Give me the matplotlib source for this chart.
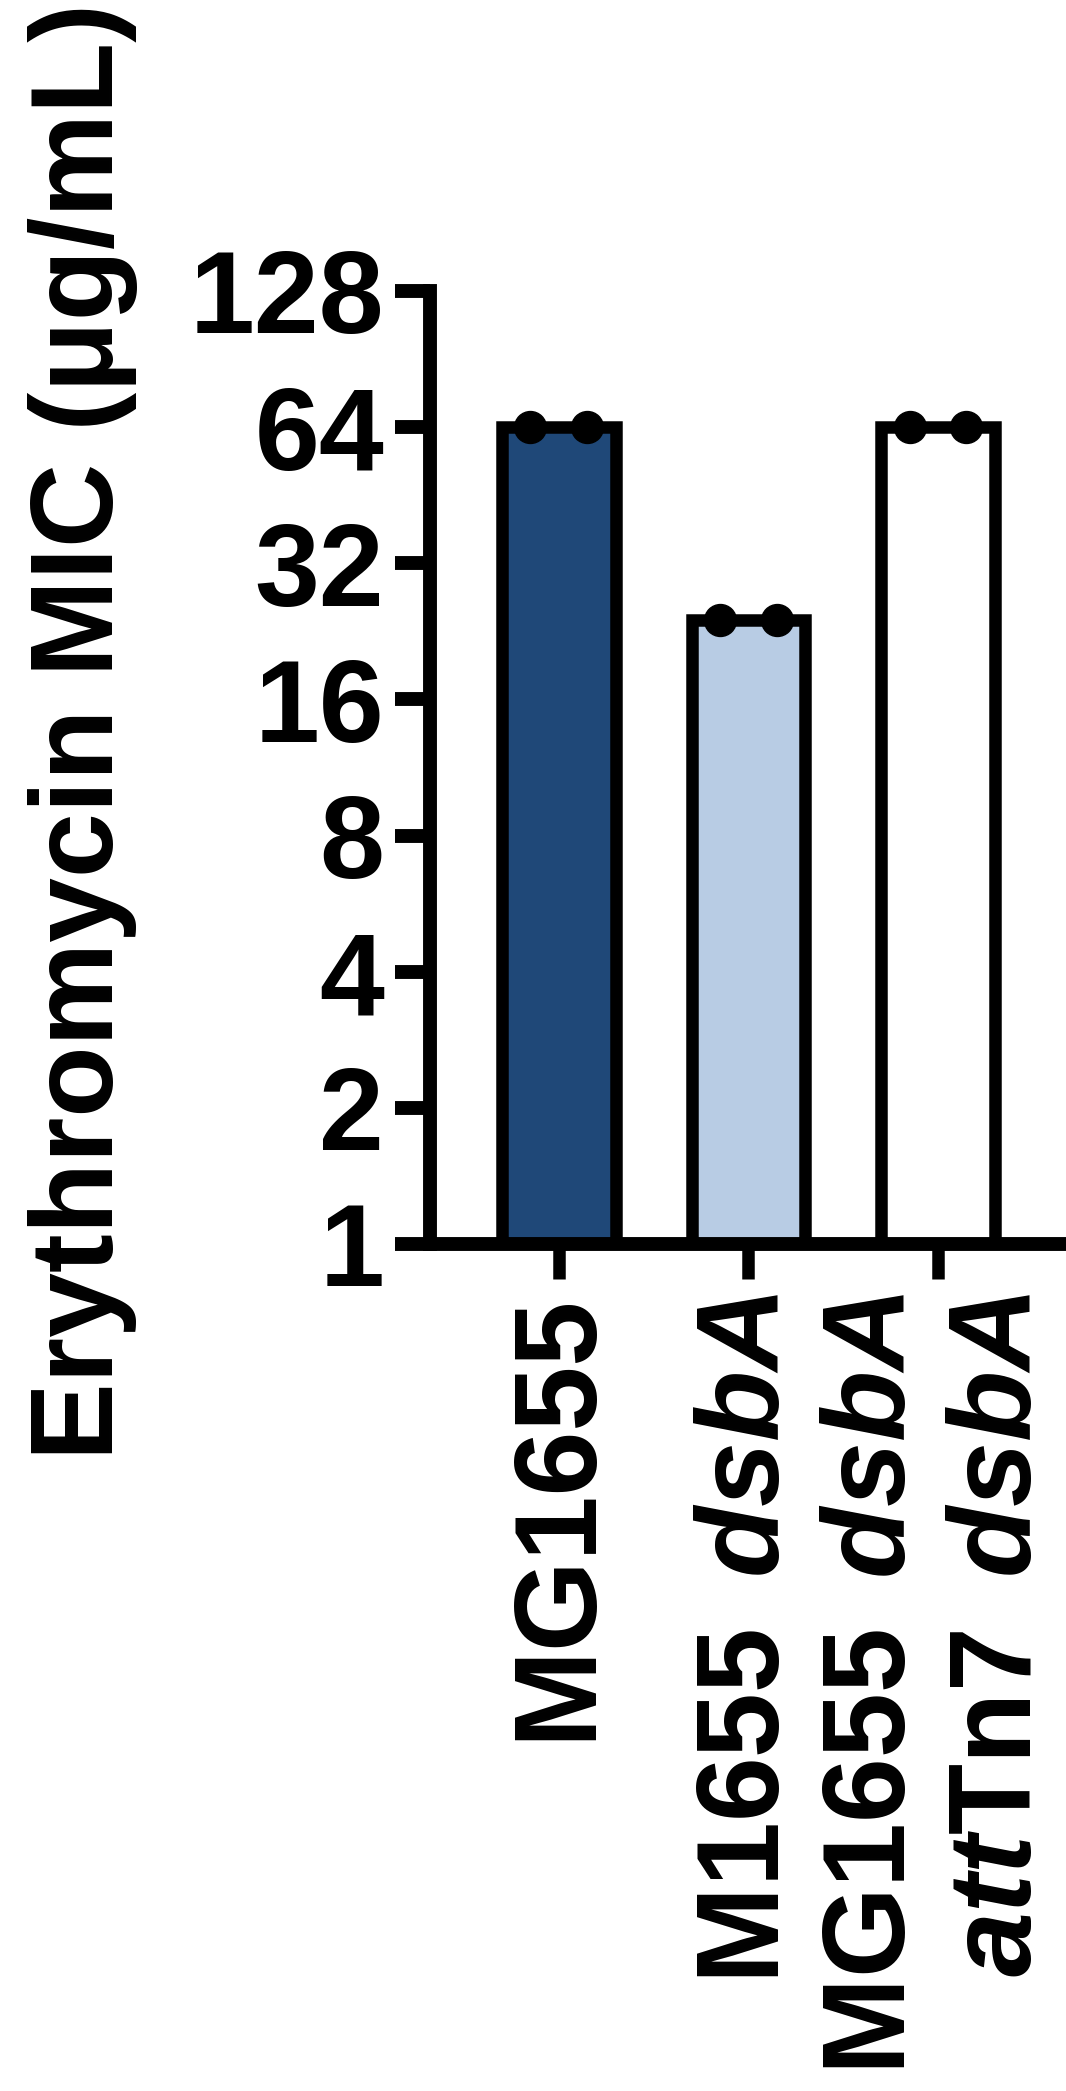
import numpy as np
import matplotlib.pyplot as plt

plt.rcParams['font.family'] = ['Liberation Sans', 'DejaVu Sans']
plt.rcParams['font.weight'] = 'bold'
plt.rcParams['mathtext.fontset'] = 'custom'
plt.rcParams['mathtext.rm'] = 'Liberation Sans:bold'
plt.rcParams['mathtext.it'] = 'Liberation Sans:bold:italic'
plt.rcParams['mathtext.bf'] = 'Liberation Sans:bold'

strains = ['MG1655', r'M1655 $\,dsbA$', 'MG1655 $\\,dsbA$\n$att$Tn7 $\\,dsbA$']
mic_mean = [64, 24, 64]
mic_reps = [[64, 64], [24, 24], [64, 64]]
bar_colors = ['#1f4878', '#b8cce4', '#ffffff']
yticks = [1, 2, 4, 8, 16, 32, 64, 128]

fs = 84

fig = plt.figure(figsize=(10.66, 20.91), dpi=100)
ax = fig.add_axes([430/1066, 847/2091, (1127.5-430)/1066, 953/2091])

x = np.arange(len(strains))
ax.bar(x, mic_mean, width=0.6, color=bar_colors, edgecolor='black',
       linewidth=9, bottom=0, zorder=2)
# replicate MIC readings on top of each bar
for i, reps in enumerate(mic_reps):
    offs = np.linspace(-0.15, 0.15, len(reps))
    ax.plot(x[i] + offs, reps, 'o', color='black', markersize=23, zorder=3,
            clip_on=False)

ax.set_yscale('log', base=2)
ax.set_ylim(1, 128)
ax.set_xlim(-0.68, 3.0)
ax.set_yticks(yticks)
ax.set_yticklabels([str(t) for t in yticks])
ax.minorticks_off()
ax.set_xticks(x)
ax.set_xticklabels(strains, rotation=90, va='top', ha='center',
                   multialignment='right')

for s in ['top', 'right']:
    ax.spines[s].set_visible(False)
for s in ['left', 'bottom']:
    ax.spines[s].set_linewidth(10)
ax.tick_params(axis='y', length=25, width=10, pad=8, labelsize=fs)
ax.tick_params(axis='x', length=25, width=9, pad=10, labelsize=fs)

fig.text(83/1066, (2091-1460)/2091, r'Erythromycin MIC (μg/mL)',
         rotation=90, ha='center', va='bottom', fontsize=fs,
         fontweight='bold')

fig.savefig('out.png', dpi=100)
